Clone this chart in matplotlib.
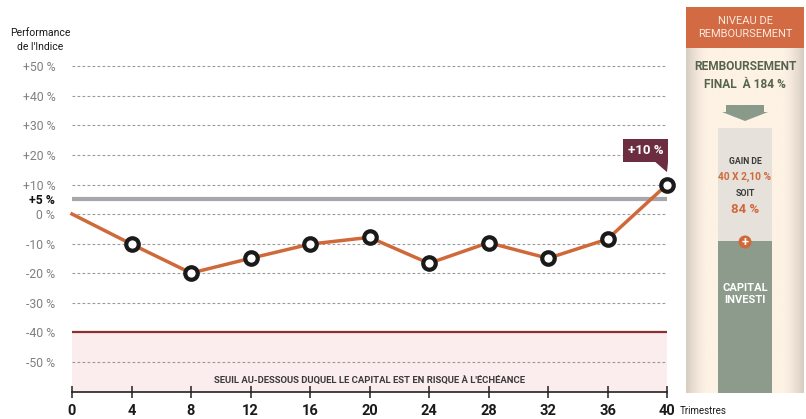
import matplotlib
matplotlib.use("Agg")
import matplotlib.pyplot as plt
import numpy as np
from matplotlib.patches import Rectangle, Polygon, Circle

plt.rcParams['font.family'] = ['Roboto', 'DejaVu Sans']

# ---- data ----
quarters = [0, 4, 8, 12, 16, 20, 24, 28, 32, 36, 40]
performance = [0, -10.2, -20, -15, -10.2, -7.9, -16.7, -9.7, -15, -8.5, 10]
y_ticks = [50, 40, 30, 20, 10, 5, 0, -10, -20, -30, -40, -50]
y_labels = ['+50 %', '+40 %', '+30 %', '+20 %', '+10 %', '+5 %', '0 %',
            '-10 %', '-20 %', '-30 %', '-40 %', '-50 %']
grid_levels = [50, 40, 30, 20, 10, 0, -10, -20, -30, -50]
coupon_barrier = 5
capital_barrier = -40
final_label = '+10 %'

ORANGE = '#d0693a'
MAROON = '#6b2d3f'
DARKRED = '#8b2f2f'

fig = plt.figure(figsize=(8.06, 4.19), dpi=100)
W, H = 806, 419

# background overlay axes in pixel coords for the right panel
bg = fig.add_axes([0, 0, 1, 1])
bg.set_xlim(0, W)
bg.set_ylim(H, 0)
bg.axis('off')

# main chart
ax = fig.add_axes([72 / W, (H - 392) / H, 595 / W, 340 / H])
ax.set_xlim(0, 40)
ax.set_ylim(-60.3, 54.9)
ax.patch.set_alpha(0)

for g in grid_levels:
    ax.axhline(g, color='#9a9a9a', lw=0.8, ls=(0, (2.5, 2)), zorder=1)
ax.axhspan(-60.3, capital_barrier, color='#fbeced', zorder=0)
ax.axhline(capital_barrier, color=DARKRED, lw=1.6, zorder=2)
ax.axhline(coupon_barrier, color='#a7a7ab', lw=3, zorder=2)

ax.plot(quarters, performance, color=ORANGE, lw=2.5, zorder=3, clip_on=False)
ax.plot(quarters[1:], performance[1:], ls='none', marker='o', ms=9,
        mfc='white', mec='#1a1a1a', mew=3.0, zorder=4, clip_on=False)

# final annotation box with pointer
xf, yf = quarters[-1], performance[-1]
ax.add_patch(Rectangle((xf - 2.96, yf + 7.6), 3.03, 7.8, fc=MAROON, ec='none',
                       zorder=5, clip_on=False))
ax.add_patch(Polygon([[xf - 0.8, yf + 7.7], [xf + 0.07, yf + 7.7], [xf, yf + 4.2]],
                     closed=True, fc=MAROON, ec='none', zorder=5, clip_on=False))
ax.text(xf - 1.45, yf + 11.6, final_label, ha='center', va='center', color='white',
        fontsize=9.5, fontweight='bold', zorder=6, clip_on=False)

ax.text(20, -56.6, "SEUIL AU-DESSOUS DUQUEL LE CAPITAL EST EN RISQUE À L'ÉCHÉANCE",
        ha='center', va='center', fontsize=6.8, fontweight='bold', color='#3a3a3a')

for s in ['top', 'right', 'left']:
    ax.spines[s].set_visible(False)
ax.spines['bottom'].set_color('#222222')
ax.spines['bottom'].set_linewidth(1.2)

ax.set_xticks(quarters)
ax.set_xticklabels([str(q) for q in quarters], fontsize=10.5, fontweight='bold', color='#1a1a1a')
ax.tick_params(axis='x', direction='inout', length=9, width=1.1, color='#222222', pad=4)
ax.set_yticks(y_ticks)
ax.set_yticklabels(y_labels, fontsize=8.8, color='#808080')
ax.tick_params(axis='y', length=0, pad=12)
for lbl in ax.get_yticklabels():
    if lbl.get_text() == '+5 %':
        lbl.set_color('#111111')
        lbl.set_fontweight('bold')

fig.text(40 / W, 1 - 40 / H, "Performance\nde l'Indice", ha='center', va='center',
         fontsize=7.5, color='#1a1a1a', linespacing=1.6)
fig.text(680 / W, 1 - 411 / H, "Trimestres", ha='left', va='center',
         fontsize=7, color='#1a1a1a')

# ---- right panel ----
x0, x1 = 686, 804
grad = np.linspace(0, 1, 200)
shade = np.clip(1 - np.minimum(grad, 1 - grad) / 0.18, 0, 1) ** 1.5
c_cream = np.array([253, 242, 228]) / 255
c_dark = np.array([214, 204, 192]) / 255
img = c_cream[None, None, :] * (1 - shade[None, :, None]) + c_dark[None, None, :] * shade[None, :, None]
bg.imshow(img, extent=[x0, x1, 393, 48], aspect='auto', zorder=1)
bg.set_xlim(0, W)
bg.set_ylim(H, 0)
bg.add_patch(Rectangle((x0, 7), x1 - x0, 41, fc='#d26a43', ec='none', zorder=2))
bg.text((x0 + x1) / 2, 27.5, "NIVEAU DE\nREMBOURSEMENT", ha='center', va='center',
        color='#fbe9de', fontsize=8, linespacing=1.4, zorder=3)
bg.text((x0 + x1) / 2, 76, "REMBOURSEMENT\nFINAL  À 184 %", ha='center', va='center',
        color='#56634f', fontsize=8.6, fontweight='bold', linespacing=1.5, zorder=3)
# arrow
bg.add_patch(Polygon([[726, 105], [764, 105], [764, 112], [768, 112], [745, 121],
                      [722, 112], [726, 112]], closed=True, fc='#8a9a8a', ec='none', zorder=3))
# column
bg.add_patch(Rectangle((718, 128), 54, 113, fc='#e6e1da', ec='none', zorder=2))
bg.add_patch(Rectangle((718, 241), 54, 152, fc='#8c9b8c', ec='none', zorder=2))
bg.text(745, 161, "GAIN DE", ha='center', va='center', fontsize=6.3, fontweight='bold',
        color='#3a3a3a', zorder=3)
bg.text(745, 177, "40 X 2,10 %", ha='center', va='center', fontsize=7.3, fontweight='bold',
        color=ORANGE, zorder=3)
bg.text(745, 193, "SOIT", ha='center', va='center', fontsize=6.3, fontweight='bold',
        color='#3a3a3a', zorder=3)
bg.text(745, 209, "84 %", ha='center', va='center', fontsize=9.5, fontweight='bold',
        color=ORANGE, zorder=3)
bg.add_patch(Circle((745, 242), 6.5, fc=ORANGE, ec='none', zorder=3))
bg.text(745, 242, "+", ha='center', va='center', fontsize=9, fontweight='bold',
        color='white', zorder=4)
bg.text(745, 294, "CAPITAL\nINVESTI", ha='center', va='center', fontsize=8, fontweight='bold',
        color='white', linespacing=1.3, zorder=3)

fig.savefig('out.png', dpi=100)
